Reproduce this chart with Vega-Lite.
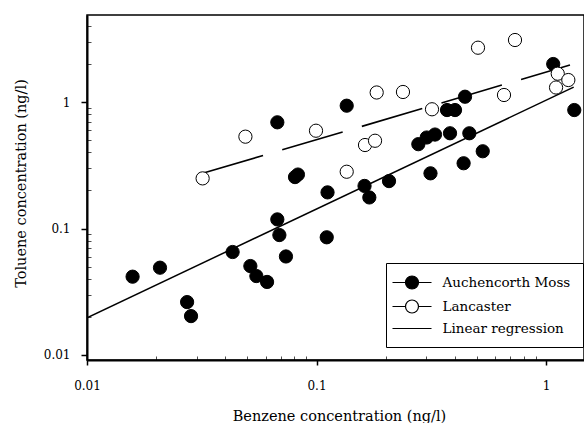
{
  "$schema": "https://vega.github.io/schema/vega-lite/v6.json",
  "width": 497,
  "height": 345,
  "autosize": {"type": "none"},
  "padding": {"left": 87, "top": 15, "right": 0, "bottom": 63},
  "background": "white",
  "config": {"view": {"stroke": "black", "strokeWidth": 1.5}, "font": "DejaVu Serif"},
  "datasets": {
    "pts": [
      {"site": "Auchencorth Moss", "benzene": 0.0158, "toluene": 0.0416},
      {"site": "Auchencorth Moss", "benzene": 0.0208, "toluene": 0.049},
      {"site": "Auchencorth Moss", "benzene": 0.0273, "toluene": 0.0262},
      {"site": "Auchencorth Moss", "benzene": 0.0284, "toluene": 0.0203},
      {"site": "Auchencorth Moss", "benzene": 0.0431, "toluene": 0.0652},
      {"site": "Auchencorth Moss", "benzene": 0.0515, "toluene": 0.0505},
      {"site": "Auchencorth Moss", "benzene": 0.0547, "toluene": 0.0421},
      {"site": "Auchencorth Moss", "benzene": 0.0609, "toluene": 0.0378},
      {"site": "Auchencorth Moss", "benzene": 0.0675, "toluene": 0.118},
      {"site": "Auchencorth Moss", "benzene": 0.0689, "toluene": 0.0888},
      {"site": "Auchencorth Moss", "benzene": 0.0736, "toluene": 0.0601},
      {"site": "Auchencorth Moss", "benzene": 0.0675, "toluene": 0.691},
      {"site": "Auchencorth Moss", "benzene": 0.0806, "toluene": 0.255},
      {"site": "Auchencorth Moss", "benzene": 0.083, "toluene": 0.267},
      {"site": "Auchencorth Moss", "benzene": 0.1117, "toluene": 0.193},
      {"site": "Auchencorth Moss", "benzene": 0.1108, "toluene": 0.0852},
      {"site": "Auchencorth Moss", "benzene": 0.1354, "toluene": 0.935},
      {"site": "Auchencorth Moss", "benzene": 0.1619, "toluene": 0.217},
      {"site": "Auchencorth Moss", "benzene": 0.1699, "toluene": 0.176},
      {"site": "Auchencorth Moss", "benzene": 0.207, "toluene": 0.237},
      {"site": "Auchencorth Moss", "benzene": 0.2778, "toluene": 0.464},
      {"site": "Auchencorth Moss", "benzene": 0.3021, "toluene": 0.524},
      {"site": "Auchencorth Moss", "benzene": 0.3283, "toluene": 0.553},
      {"site": "Auchencorth Moss", "benzene": 0.3817, "toluene": 0.566},
      {"site": "Auchencorth Moss", "benzene": 0.4634, "toluene": 0.566},
      {"site": "Auchencorth Moss", "benzene": 0.3138, "toluene": 0.273},
      {"site": "Auchencorth Moss", "benzene": 0.3704, "toluene": 0.864},
      {"site": "Auchencorth Moss", "benzene": 0.4014, "toluene": 0.864},
      {"site": "Auchencorth Moss", "benzene": 0.4437, "toluene": 1.101},
      {"site": "Auchencorth Moss", "benzene": 0.53, "toluene": 0.408},
      {"site": "Auchencorth Moss", "benzene": 0.4375, "toluene": 0.328},
      {"site": "Auchencorth Moss", "benzene": 1.075, "toluene": 1.997},
      {"site": "Auchencorth Moss", "benzene": 1.328, "toluene": 0.864},
      {"site": "Lancaster", "benzene": 0.0319, "toluene": 0.249},
      {"site": "Lancaster", "benzene": 0.049, "toluene": 0.532},
      {"site": "Lancaster", "benzene": 0.0995, "toluene": 0.593},
      {"site": "Lancaster", "benzene": 0.1354, "toluene": 0.281},
      {"site": "Lancaster", "benzene": 0.1627, "toluene": 0.457},
      {"site": "Lancaster", "benzene": 0.1799, "toluene": 0.494},
      {"site": "Lancaster", "benzene": 0.1829, "toluene": 1.189},
      {"site": "Lancaster", "benzene": 0.2381, "toluene": 1.2},
      {"site": "Lancaster", "benzene": 0.3186, "toluene": 0.876},
      {"site": "Lancaster", "benzene": 0.5055, "toluene": 2.687},
      {"site": "Lancaster", "benzene": 0.6561, "toluene": 1.136},
      {"site": "Lancaster", "benzene": 0.7326, "toluene": 3.091},
      {"site": "Lancaster", "benzene": 1.125, "toluene": 1.674},
      {"site": "Lancaster", "benzene": 1.251, "toluene": 1.492},
      {"site": "Lancaster", "benzene": 1.106, "toluene": 1.302}
    ],
    "regA": [{"benzene": 0.01, "toluene": 0.0197}, {"benzene": 1.32, "toluene": 1.31}],
    "regL": [{"benzene": 0.0319, "toluene": 0.273}, {"benzene": 1.272, "toluene": 1.961}]
  },
  "layer": [
    {
      "data": {"name": "regA"},
      "mark": {"type": "line", "color": "black", "strokeWidth": 1.5, "clip": true},
      "encoding": {
        "x": {"field": "benzene", "type": "quantitative", "scale": {"type": "log", "domain": [0.01, 1.464], "nice": false}},
        "y": {"field": "toluene", "type": "quantitative", "scale": {"type": "log", "domain": [0.00913, 4.873], "nice": false}}
      }
    },
    {
      "data": {"name": "regL"},
      "mark": {"type": "line", "color": "black", "strokeWidth": 1.6, "strokeDash": [63, 20], "clip": true},
      "encoding": {
        "x": {"field": "benzene", "type": "quantitative"},
        "y": {"field": "toluene", "type": "quantitative"}
      }
    },
    {
      "data": {"name": "pts"},
      "mark": {"type": "point", "shape": "circle", "filled": true, "size": 175, "stroke": "black", "strokeWidth": 1, "opacity": 1},
      "encoding": {
        "x": {
          "field": "benzene", "type": "quantitative",
          "axis": {
            "title": "Benzene concentration (ng/l)",
            "values": [0.01, 0.02, 0.03, 0.04, 0.05, 0.06, 0.07, 0.08, 0.09, 0.1, 0.2, 0.3, 0.4, 0.5, 0.6, 0.7, 0.8, 0.9, 1],
            "labelExpr": "datum.value == 0.01 ? '0.01' : datum.value == 0.1 ? '0.1' : datum.value == 1 ? '1' : ''",
            "tickSize": {"condition": {"test": "datum.value == 0.01 || datum.value == 0.1 || datum.value == 1", "value": 5}, "value": -4},
            "tickWidth": {"condition": {"test": "datum.value == 0.01 || datum.value == 0.1 || datum.value == 1", "value": 1.5}, "value": 0.7},
            "tickColor": "black",
            "domainColor": "black", "domainWidth": 2,
            "grid": false, "labelOverlap": false, "labelFlush": false,
            "labelFont": "DejaVu Serif", "labelFontSize": 12, "labelColor": "black", "labelPadding": 15,
            "titleFont": "DejaVu Serif", "titleFontSize": 14.5, "titleFontWeight": "normal", "titleColor": "black",
            "titleX": 252, "titleY": 60.5, "titleBaseline": "alphabetic", "titleAlign": "center"
          }
        },
        "y": {
          "field": "toluene", "type": "quantitative",
          "axis": {
            "title": "Toluene concentration (ng/l)",
            "values": [0.01, 0.02, 0.03, 0.04, 0.05, 0.06, 0.07, 0.08, 0.09, 0.1, 0.2, 0.3, 0.4, 0.5, 0.6, 0.7, 0.8, 0.9, 1, 2, 3, 4],
            "labelExpr": "datum.value == 0.01 ? '0.01' : datum.value == 0.1 ? '0.1' : datum.value == 1 ? '1' : ''",
            "tickSize": {"condition": {"test": "datum.value == 0.01 || datum.value == 0.1 || datum.value == 1", "value": 6}, "value": -4},
            "tickWidth": {"condition": {"test": "datum.value == 0.01 || datum.value == 0.1 || datum.value == 1", "value": 1.5}, "value": 0.7},
            "tickColor": "black",
            "domainColor": "black", "domainWidth": 2,
            "grid": false, "labelOverlap": false,
            "labelFont": "DejaVu Serif", "labelFontSize": 12, "labelColor": "black", "labelPadding": 11,
            "titleFont": "DejaVu Serif", "titleFontSize": 14.5, "titleFontWeight": "normal", "titleColor": "black",
            "titleX": -62, "titleY": 168, "titleAngle": 270, "titleBaseline": "alphabetic", "titleAlign": "center"
          }
        },
        "fill": {
          "field": "site", "type": "nominal",
          "scale": {"domain": ["Auchencorth Moss", "Lancaster", "Linear regression"], "range": ["black", "white", "white"]}
        }
      }
    },
    {
      "data": {"name": "pts"},
      "mark": {"type": "point", "filled": true, "size": 169, "stroke": "black", "strokeWidth": 1, "opacity": 0},
      "encoding": {
        "x": {"field": "benzene", "type": "quantitative"},
        "y": {"field": "toluene", "type": "quantitative"},
        "fill": {
          "field": "site", "type": "nominal",
          "scale": {"domain": ["Auchencorth Moss", "Lancaster", "Linear regression"], "range": ["black", "white", "white"]},
          "legend": {
            "title": null, "orient": "none", "legendX": 299, "legendY": 248,
            "fillColor": "white", "strokeColor": "black", "padding": 12,
            "symbolSize": 169, "symbolStrokeColor": "black", "symbolStrokeWidth": 1.2, "symbolOpacity": 1,
            "symbolOffset": 6.5, "labelOffset": 23,
            "labelFont": "DejaVu Serif", "labelFontSize": 13.5, "labelColor": "black", "labelLimit": 300,
            "rowPadding": 5
          }
        },
        "shape": {
          "field": "site", "type": "nominal",
          "scale": {"domain": ["Auchencorth Moss", "Lancaster", "Linear regression"], "range": ["M-3,0H-1M1,0A1,1 0 1,1 -1,0A1,1 0 1,1 1,0ZM1,0H3", "M-3,0H-1M1,0A1,1 0 1,1 -1,0A1,1 0 1,1 1,0ZM1,0H3", "M-3,0H3"]},
          "legend": {
            "title": null, "orient": "none", "legendX": 299, "legendY": 248,
            "fillColor": "white", "strokeColor": "black", "padding": 12,
            "symbolSize": 169, "symbolStrokeColor": "black", "symbolStrokeWidth": 1.2, "symbolOpacity": 1,
            "symbolOffset": 6.5, "labelOffset": 23,
            "labelFont": "DejaVu Serif", "labelFontSize": 13.5, "labelColor": "black", "labelLimit": 300,
            "rowPadding": 5
          }
        }
      }
    }
  ]
}
